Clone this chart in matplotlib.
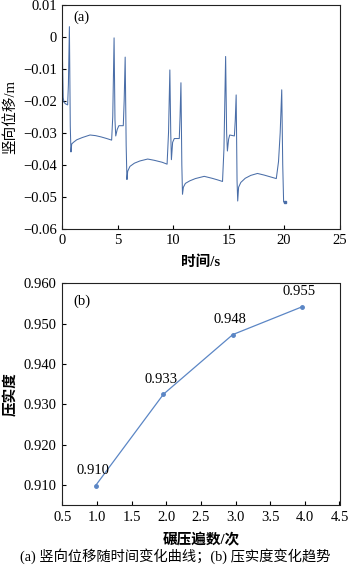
import matplotlib
matplotlib.use("Agg")
import matplotlib.pyplot as plt

plt.rcParams['font.family'] = ['Liberation Serif', 'Noto Sans CJK SC']
plt.rcParams['axes.unicode_minus'] = True

# (a) vertical displacement vs time (key points)
time_s = [0.0, 0.08, 0.15, 0.3, 0.48, 0.55, 0.64, 0.72, 0.78, 0.85, 1.0, 1.3, 1.8, 2.5, 3.0, 3.5, 4.0, 4.45,
          4.55, 4.67, 4.75, 4.82, 4.95, 5.1, 5.5, 5.58, 5.67, 5.76, 5.83, 5.9, 6.1, 6.5, 7.0, 7.7, 8.3, 9.0, 9.45,
          9.58, 9.7, 9.78, 9.84, 9.95, 10.1, 10.55, 10.62, 10.7, 10.78, 10.84, 10.92, 11.1, 11.5, 12.0, 12.8,
          13.5, 14.0, 14.45, 14.58, 14.73, 14.82, 14.89, 15.0, 15.1, 15.52, 15.6, 15.68, 15.76, 15.82, 15.9,
          16.1, 16.5, 17.0, 17.6, 18.2, 18.8, 19.3, 19.5, 19.65, 19.79, 19.88, 19.96, 20.05]
disp_m = [-0.004, -0.019, -0.0205, -0.021, -0.0213, -0.015, 0.0031, -0.028, -0.036, -0.0335, -0.033, -0.0322,
          -0.0315, -0.0307, -0.0309, -0.0313, -0.0318, -0.0323, -0.025, -0.0004, -0.026, -0.031, -0.029,
          -0.0278, -0.0278, -0.020, -0.0064, -0.034, -0.0446, -0.042, -0.0405, -0.0395, -0.0388, -0.0382,
          -0.0386, -0.0392, -0.0398, -0.030, -0.0104, -0.030, -0.0384, -0.033, -0.0318, -0.0318, -0.025,
          -0.0144, -0.040, -0.0492, -0.047, -0.0458, -0.045, -0.0443, -0.0436, -0.0442, -0.0447, -0.0452,
          -0.035, -0.0062, -0.030, -0.0357, -0.032, -0.0307, -0.031, -0.026, -0.0182, -0.045, -0.0513, -0.047,
          -0.0455, -0.0442, -0.0433, -0.0427, -0.0432, -0.0438, -0.0443, -0.039, -0.030, -0.0166, -0.040,
          -0.0516, -0.0517]

# (b) compaction degree vs number of rolling passes
passes = [0.98, 1.96, 2.96, 3.96]
compaction = [0.9098, 0.9325, 0.9473, 0.9542]
compaction_labels = ['0.910', '0.933', '0.948', '0.955']

fig = plt.figure(figsize=(3.5, 5.68), dpi=100)
ax1 = fig.add_axes([0.178, 0.597, 0.792, 0.395])
ax2 = fig.add_axes([0.178, 0.111, 0.792, 0.390])

line_color = '#4a6ea8'

ax1.plot(time_s, disp_m, color=line_color, linewidth=0.75)
ax1.plot(time_s[-1], disp_m[-1], marker='s', markersize=2, color=line_color)
ax1.set_xlim(0, 25)
ax1.set_ylim(-0.06, 0.01)
ax1.set_xticks([0, 5, 10, 15, 20, 25])
ax1.set_yticks([-0.06, -0.05, -0.04, -0.03, -0.02, -0.01, 0, 0.01])
ax1.set_yticklabels(['\u22120.06', '\u22120.05', '\u22120.04', '\u22120.03', '\u22120.02',
                     '\u22120.01', '0', '0.01'])
ax1.set_xlabel('时间/s', fontsize=10.5, fontweight='bold', labelpad=6)
ax1.set_ylabel('竖向位移/m', fontsize=10.5, labelpad=4)
ax1.text(0.04, 0.975, '(a)', transform=ax1.transAxes, fontsize=10.5, va='top', ha='left')

ax2.plot(passes, compaction, color='#5b86c5', linewidth=0.9, marker='o', markersize=2.5)
for x, y, lab in zip(passes, compaction, compaction_labels):
    ax2.annotate(lab, (x, y), xytext=(-2, 6), textcoords='offset points',
                 ha='center', va='bottom', fontsize=10.5)
ax2.set_xlim(0.5, 4.5)
ax2.set_ylim(0.905, 0.960)
ax2.set_xticks([0.5, 1.0, 1.5, 2.0, 2.5, 3.0, 3.5, 4.0, 4.5])
ax2.set_xticklabels(['0.5', '1.0', '1.5', '2.0', '2.5', '3.0', '3.5', '4.0', '4.5'])
ax2.set_yticks([0.910, 0.920, 0.930, 0.940, 0.950, 0.960])
ax2.set_yticklabels(['0.910', '0.920', '0.930', '0.940', '0.950', '0.960'])
ax2.set_xlabel('碾压遍数/次', fontsize=10.5, fontweight='bold', labelpad=7)
ax2.set_ylabel('压实度', fontsize=10.5, fontweight='bold', labelpad=5)
ax2.text(0.04, 0.95, '(b)', transform=ax2.transAxes, fontsize=10.5, va='top', ha='left')

for ax in (ax1, ax2):
    ax.tick_params(direction='in', length=3, width=0.8, labelsize=10.5, pad=4,
                   top=False, right=False)
    for sp in ax.spines.values():
        sp.set_linewidth(0.8)
        sp.set_color('#222222')

fig.text(0.5, 0.02, '(a) 竖向位移随时间变化曲线；(b) 压实度变化趋势', ha='center', va='center',
         fontsize=10.3)

fig.savefig('out.png', dpi=100)
